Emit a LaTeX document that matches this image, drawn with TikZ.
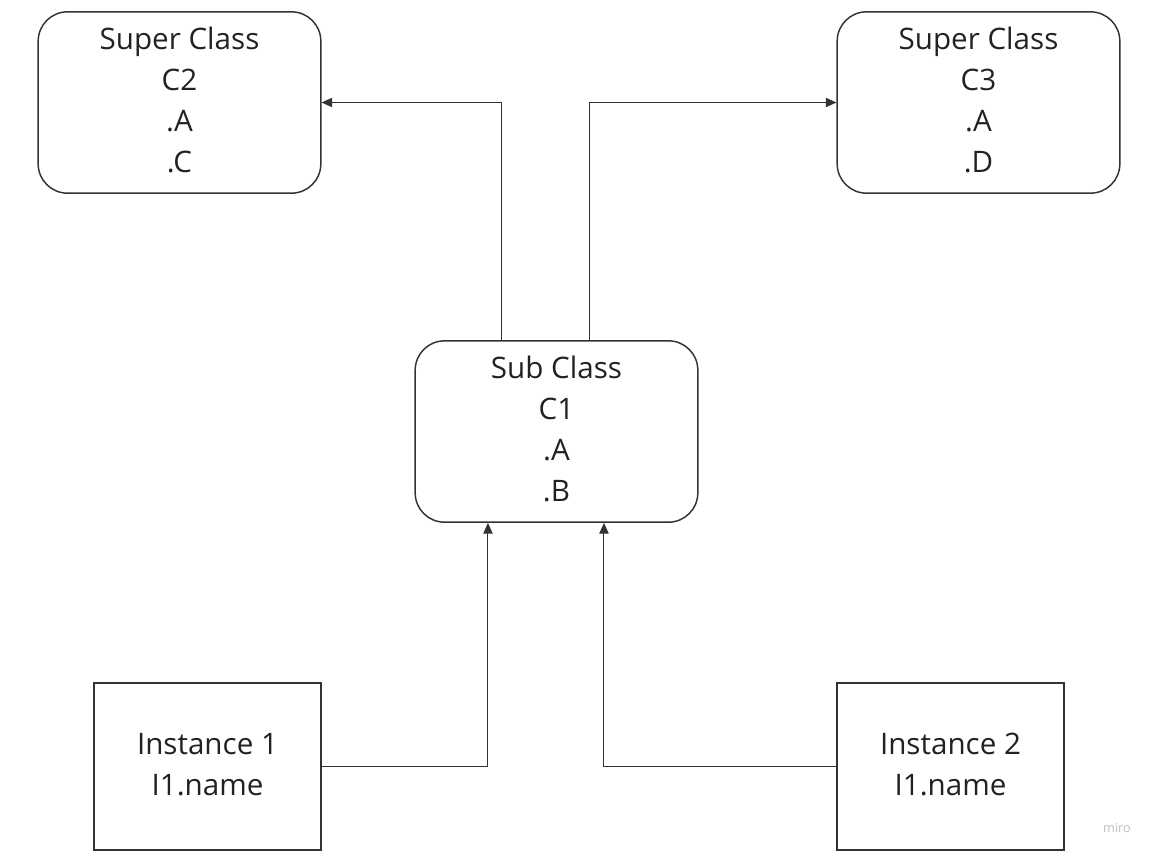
\documentclass[tikz,border=0pt]{standalone}
\usepackage{fontspec}
\setmainfont{Open Sans}
\usetikzlibrary{arrows.meta}
\definecolor{txt}{HTML}{222222}
\definecolor{ln}{HTML}{333333}
\newcommand{\boxtext}[2]{\raisebox{#1}{\begin{tabular}{@{}c@{}}#2\end{tabular}}}
\tikzset{
  classbox/.style={draw=ln, line width=1.1pt, rounded corners=22pt, minimum width=212pt, minimum height=136pt, text=txt, font=\fontsize{22.2}{30.75}\selectfont, inner sep=0pt},
  instbox/.style={draw=ln, line width=1.1pt, minimum width=170pt, minimum height=125pt, text=txt, font=\fontsize{22.2}{30.75}\selectfont, inner sep=0pt},
  conn/.style={draw=ln, line width=0.75pt, -{Triangle[length=8pt,width=7pt]}},
}
\begin{document}
\begin{tikzpicture}[x=0.75pt,y=-0.75pt]
\useasboundingbox (0,0) rectangle (1162,860);
\node[classbox] (C2) at (179.5,102.5) {\boxtext{2.2pt}{Super Class\\C2\\.A\\.C}};
\node[classbox] (C3) at (978.5,102.5) {\boxtext{2.2pt}{Super Class\\C3\\.A\\.D}};
\node[classbox] (C1) at (556.5,431.5) {\boxtext{2.2pt}{Sub Class\\C1\\.A\\.B}};
\node[instbox] (I1) at (207.5,766.5) {\boxtext{1.5pt}{Instance 1\\I1.name}};
\node[instbox] (I2) at (950.5,766.5) {\boxtext{1.5pt}{Instance 2\\I1.name}};
\draw[conn] ([xshift=-41.6pt]C1.north) |- (C2.east);
\draw[conn] ([xshift=24.4pt]C1.north) |- (C3.west);
\draw[conn] (I1.east) -| ([xshift=-51.4pt]C1.south);
\draw[conn] (I2.west) -| ([xshift=35.6pt]C1.south);
\node[text=black!25, font=\fontsize{9.5}{11}\selectfont] (wm) at (1117,828) {miro};
\end{tikzpicture}
\end{document}
